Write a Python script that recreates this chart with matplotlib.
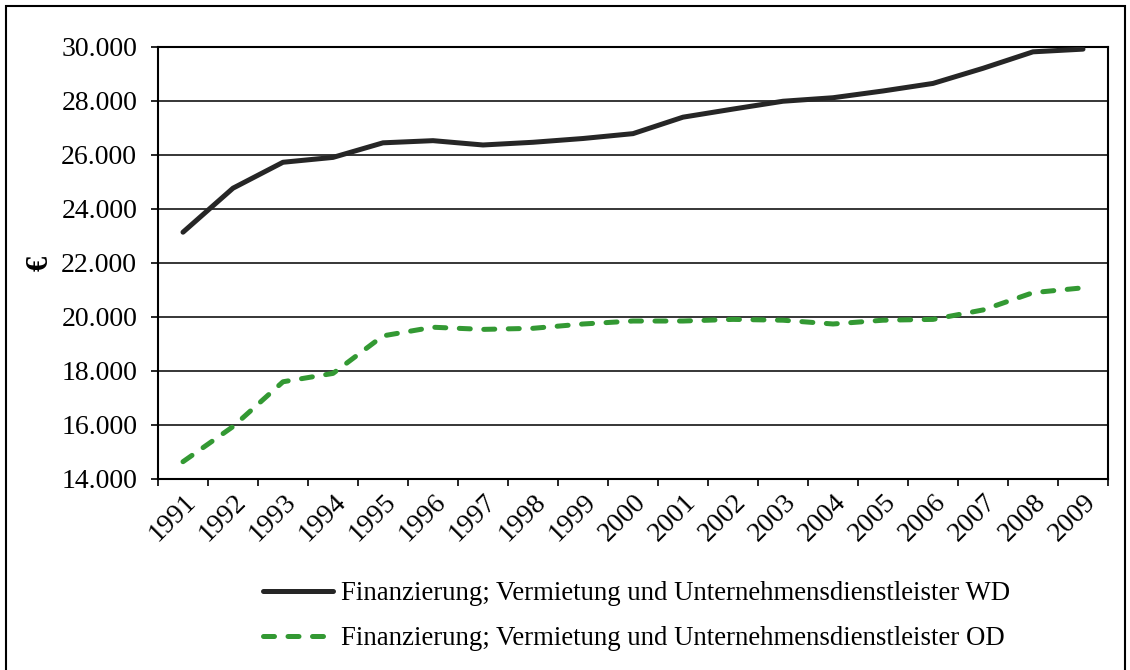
import matplotlib
matplotlib.use("Agg")
import matplotlib.pyplot as plt
from matplotlib.patches import Rectangle
from matplotlib.ticker import FuncFormatter, FixedLocator

years = [str(y) for y in range(1991, 2010)]
wd_values = [23130, 24760, 25720, 25900, 26440, 26520, 26360, 26460, 26600, 26780,
             27390, 27690, 27980, 28110, 28360, 28640, 29200, 29810, 29910]
od_values = [14630, 15930, 17590, 17900, 19290, 19610, 19530, 19570, 19730, 19840,
             19840, 19900, 19870, 19730, 19870, 19900, 20250, 20890, 21070]
wd_label = "Finanzierung; Vermietung und Unternehmensdienstleister WD"
od_label = "Finanzierung; Vermietung und Unternehmensdienstleister OD"
y_ticks = list(range(14000, 30001, 2000))

plt.rcParams["font.family"] = ["Liberation Serif", "DejaVu Serif"]
FS = 20

W, H = 1130, 670
fig = plt.figure(figsize=(W / 100, H / 100), dpi=100)
ax = fig.add_axes([158 / W, 1 - 478.7 / H, 950 / W, 432 / H])

x = list(range(len(years)))
ax.plot(x, wd_values, color="#262626", lw=3.6, solid_capstyle="round",
        solid_joinstyle="round", label=wd_label, zorder=3)
ax.plot(x, od_values, color="#339933", lw=3.6, dashes=(2.2, 2.7),
        dash_capstyle="round", label=od_label, zorder=3)

ax.set_xlim(-0.5, len(years) - 0.5)
ax.set_ylim(14000, 30000)
ax.set_yticks(y_ticks)
ax.yaxis.set_major_formatter(FuncFormatter(lambda v, p: f"{int(v):,}".replace(",", ".")))
ax.yaxis.grid(True, color="black", lw=1.1)
ax.set_axisbelow(True)

ax.set_xticks(x)
ax.set_xticklabels(years, rotation=45, ha="right", va="top", rotation_mode="anchor")
ax.xaxis.set_minor_locator(FixedLocator([i - 0.5 for i in range(len(years) + 1)]))
ax.tick_params(axis="x", which="major", length=0, pad=8, labelsize=FS)
ax.tick_params(axis="x", which="minor", length=5, width=1.2, direction="out")
ax.tick_params(axis="y", length=5, width=1.2, pad=10, labelsize=FS)

for s in ax.spines.values():
    s.set_color("black")
    s.set_linewidth(1.5)

fig.text(40 / W, 1 - 263 / H, "€", rotation=90, fontsize=FS + 2, fontweight="bold",
         ha="center", va="center")

fig.legend(loc="upper left", bbox_to_anchor=(263 / W, 1 - 581 / H), frameon=False,
           fontsize=19.3, handlelength=2.6, handletextpad=0.3, labelspacing=0.75,
           borderpad=0, borderaxespad=0)

fig.patches.append(Rectangle((6 / W, -0.01), 1119 / W, 1.01 - 6 / H,
                             transform=fig.transFigure, fill=False,
                             edgecolor="black", lw=1.5))

fig.savefig("out.png", dpi=100)
